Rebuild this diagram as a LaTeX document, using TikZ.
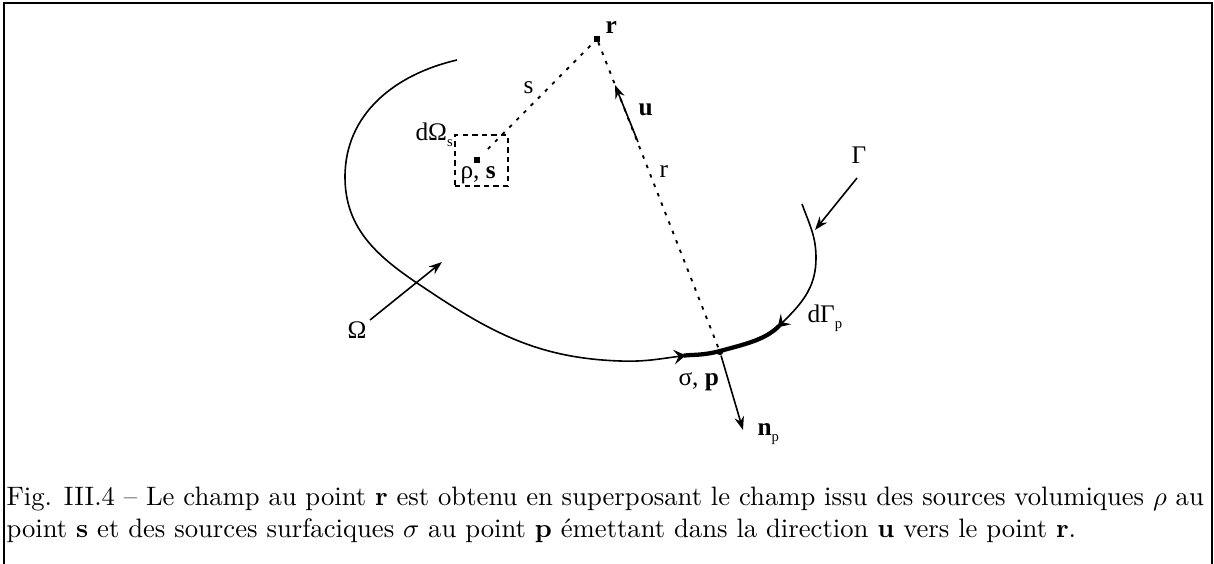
\documentclass[tikz,border=0pt]{standalone}
\usepackage{fontspec}
\newfontfamily\tms{Liberation Serif}
\usetikzlibrary{arrows.meta}
\newcommand{\mysub}[1]{\raisebox{-0.6ex}{\fontsize{5.5}{6}\selectfont #1}}
\tikzset{mtip/.tip={Stealth[reversed,length=4.5pt,width=5.5pt,inset=1.8pt]}}
\begin{document}
\begin{tikzpicture}[x=0.375pt,y=-0.375pt,
  lbl/.style={font=\tms\fontsize{9.5}{11}\selectfont, inner sep=0pt, anchor=base west},
  curveline/.style={line width=0.6pt},
  arr/.style={line width=0.6pt,-{Stealth[length=5pt,width=3.6pt]}},
  dotl/.style={line width=0.7pt,dash pattern=on 1.3pt off 2.5pt},
  dbox/.style={line width=0.7pt,dash pattern=on 2pt off 1.6pt},
  pt/.style={fill, inner sep=0pt, minimum size=2.2pt},
  frame/.style={line width=0.6pt}
]
\useasboundingbox (0,0) rectangle (1214,564);
% frame
\draw[frame] (4,564) -- (4,3) -- (1212,3) -- (1212,564);

% boundary curve Omega / Gamma
\coordinate (c0) at (457,60);
\coordinate (c1) at (345,177);
\coordinate (c2) at (417,283);
\coordinate (c3) at (620,361);
\coordinate (c4) at (674,357);
\coordinate (c5) at (720,351);
\coordinate (c6) at (786,319);
\coordinate (c7) at (816,258);
\coordinate (c8) at (802,204);
\draw[curveline] (c0) to[out=193,in=90] (c1) to[out=-90,in=146] (c2)
  to[out=-34,in=178] (c3) to[out=-2,in=188] (c4) to[out=8,in=195] (c5)
  to[out=15,in=225] (c6) to[out=45,in=-90] (c7) to[out=90,in=-70] (c8);
% thick element dGamma_p
\draw[line width=1.6pt, {mtip}-{mtip}] (c4) to[out=8,in=195] (c5) to[out=15,in=225] (c6);

% points
\node[pt, minimum size=2pt] (r) at (597,39) {};
\node[pt] (s) at (477,160) {};
\node[pt, circle, minimum size=2.4pt] (p) at (720,352) {};

% dashed box
\node[draw, dbox, minimum width=53*0.375pt, minimum height=51*0.375pt, inner sep=0pt] (box) at (481.5,160.5) {};

% dotted lines
\draw[dotl, shorten <=4pt] (s) -- (r);
\draw[dotl] (r) -- (p);

% arrows
\coordinate (utail) at (638,142);
\coordinate (utip) at (615,85);
\draw[arr] (utail) -- (utip);
\coordinate (ntip) at (743,430);
\draw[arr] (p) -- (ntip);
\coordinate (gtail) at (857,178);
\coordinate (gtip) at (815,230);
\draw[arr] (gtail) -- (gtip);
\coordinate (otail) at (370,320);
\coordinate (otip) at (442,262);
\draw[arr] (otail) -- (otip);

% labels
\node[lbl] (rlab) at (605,33) {\textbf{r}};
\node[lbl] (ulab) at (638,115) {\textbf{u}};
\node[lbl] (rdist) at (659,177) {r};
\node[lbl] (sdist) at (523,93) {s};
\node[lbl] (dom) at (415,140) {dΩ\mysub{s}};
\node[lbl] (rhos) at (460,178) {ρ, \textbf{s}};
\node[lbl] (gam) at (851,163) {Γ};
\node[lbl] (om) at (347,338) {Ω};
\node[lbl] (dgam) at (807,322) {dΓ\mysub{p}};
\node[lbl] (sigp) at (678,385) {σ, \textbf{p}};
\node[lbl] (np) at (757,435) {\textbf{n}\mysub{p}};

% caption
\node[anchor=north west, inner sep=0pt, text width=449pt, align=justify, font=\fontsize{10}{12}\selectfont] (cap) at (6,486) {Fig. III.4 -- Le champ au point \textbf{r} est obtenu en superposant le champ issu des sources volumiques $\rho$ au\linebreak point \textbf{s} et des sources surfaciques $\sigma$ au point \textbf{p} émettant dans la direction \textbf{u} vers le point \textbf{r}.};
\end{tikzpicture}
\end{document}
